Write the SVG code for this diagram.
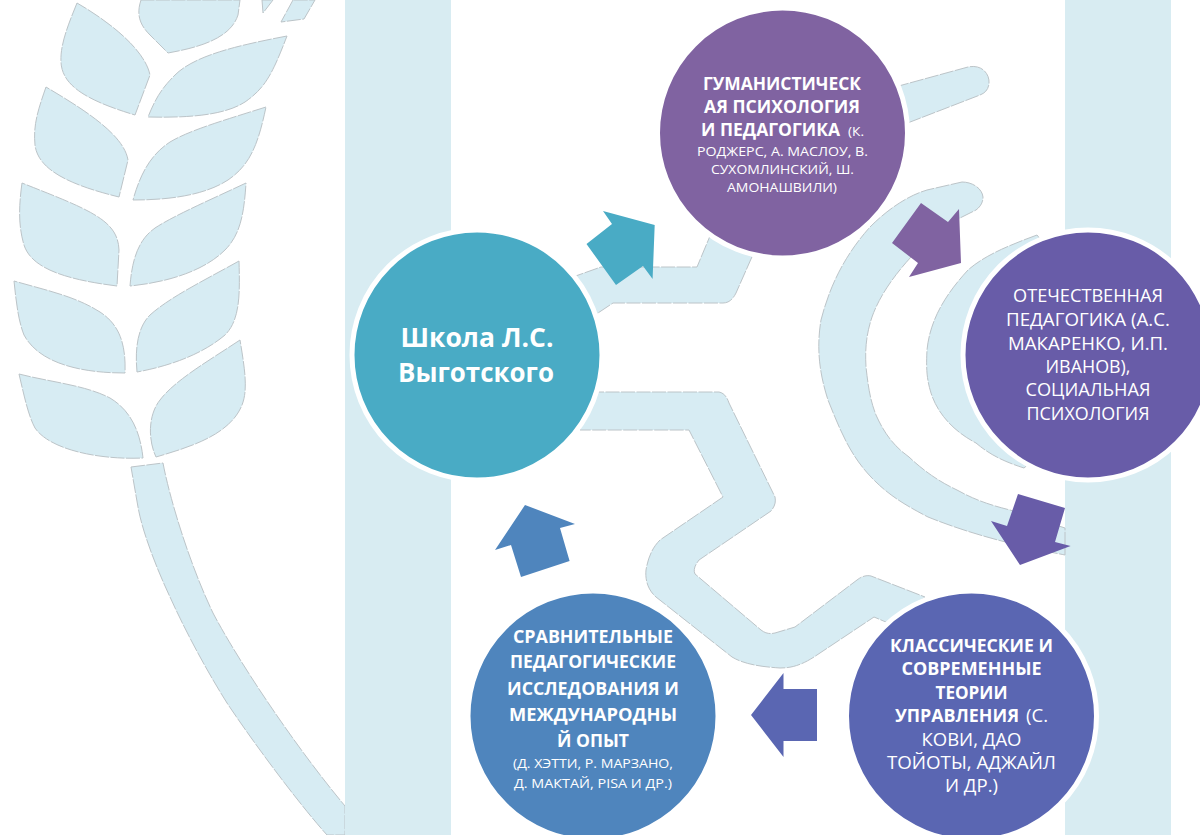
<svg xmlns="http://www.w3.org/2000/svg" width="1200" height="835" viewBox="0 0 1200 835">
<style>
.bg{fill:#d7ecf3;stroke:#bcc4c8;stroke-width:1;stroke-dasharray:14 1.5;stroke-linejoin:round}
.strip{fill:#d8ecf2}
.ring{stroke:#fff;stroke-width:5}
text{font-family:"Open Sans","Noto Sans","Liberation Sans",sans-serif;fill:#fff;text-anchor:middle}
.h{font-weight:700;font-size:18px}
.r{font-weight:400;font-size:17.5px}
.s{font-weight:400;font-size:13.5px}
.t{font-weight:700;font-size:26px}
</style>
<rect width="1200" height="835" fill="#fff"/>
<g id="background">
<path class="bg" d="M141,0C136,15 140,25 150,35L168,53C195,48 230,40 238,15L240,0Z"/>
<path class="bg" d="M77,3C68,25 60,45 61,62C62,85 85,100 135,115L150,75C145,50 110,22 77,3Z"/>
<path class="bg" d="M287,36C240,45 195,55 175,75C160,90 155,100 148,117C190,118 225,115 245,102C265,88 272,75 287,36Z"/>
<path class="bg" d="M46,87C38,110 33,125 35,145C38,170 70,185 119,197L128,160C124,135 85,110 46,87Z"/>
<path class="bg" d="M266,107C225,120 190,130 170,142C150,155 140,175 133,200C170,200 205,195 228,180C250,165 258,145 266,107Z"/>
<path class="bg" d="M22,183C19,205 18,225 24,245C32,270 70,280 117,286L119,250C118,220 90,210 22,183Z"/>
<path class="bg" d="M246,183C210,200 175,215 155,228C138,240 132,260 130,286C170,282 205,270 225,250C240,235 244,215 246,183Z"/>
<path class="bg" d="M14,281C16,300 18,320 24,335C40,365 85,373 125,373C126,345 120,325 100,312C75,296 45,290 14,281Z"/>
<path class="bg" d="M239,261C205,280 170,297 150,315C137,328 135,350 137,372C175,365 205,352 225,335C240,320 240,295 239,261Z"/>
<path class="bg" d="M19,374C24,395 28,415 35,428C50,450 100,460 143,458C140,430 130,410 110,398C85,385 50,382 19,374Z"/>
<path class="bg" d="M240,340C210,360 175,380 160,400C148,415 148,440 156,457C190,447 230,435 242,405C248,390 245,370 240,340Z"/>
<path class="bg" d="M262,0L263,13L273,0Z"/>
<path class="bg" d="M293,0L281,22L304,19L315,0Z"/>
<path class="bg" d="M131,467L163,463C170,500 190,565 213,613C235,655 290,740 345,806V835H327C300,805 255,745 227,703C205,668 185,630 170,597C155,565 142,530 138,507Z"/>
<rect class="strip" x="345" y="0" width="106" height="835"/>
<rect class="strip" x="1065" y="0" width="106" height="835"/>
<path class="bg" d="M895,87L968,67C982,64 990,74 989,84C988,90 985,93 980,95L905,124Z"/>
<path class="bg" d="M570,278L601,267H697L710,236L755,250L736,293C733,299 729,303 723,303H613L595,315Z"/>
<path class="bg" d="M590,392H719C724,393 727,397 729,403L775,497C776,502 775,506 771,511L699,560C695,565 693,570 695,574L761,630C766,634 771,634 775,633L795,627L857,580C862,576 867,575 871,576L925,597L893,625L874,617L814,657C800,666 790,668 780,668C765,667 745,665 732,657L656,597C648,590 645,580 646,570C648,558 652,548 660,540L723,497L689,430H580Z"/>
<path class="bg" d="M962,182C972,182 982,188 983,197C983,203 980,207 976,210L960,218C940,230 925,242 911,257C890,280 878,300 872,317C866,335 865,350 866,367C868,385 870,400 876,415C885,435 895,447 909,457C925,472 940,482 957,490C975,500 990,505 1010,510L1065,528V555C1040,550 985,540 928,517C905,505 888,495 871,477C850,455 840,430 828,400C820,375 816,350 821,320C830,285 845,255 870,227C890,207 910,195 927,190Z"/>
<path class="bg" d="M1037,235C1010,245 985,255 968,270C945,295 930,320 927,350C926,370 927,380 931,393C938,415 955,432 976,443C990,455 1005,462 1024,468L1080,420L1090,300Z"/>
</g>
<g id="connectors">
<polygon fill="#49abc5" points="654.7,225 603,211 612,224 586.5,244 616,285 643,266 652.6,279"/>
<polygon fill="#8063a1" points="921,203 948,222 959,209 961,263 909,277 918,263 892,243"/>
<polygon fill="#685ca8" points="1018,494 1065,508 1055,542 1070.6,546 1020,565 991,521 1007,526"/>
<polygon fill="#5a66b2" points="783.5,673 783.5,689 817,689 817,741 783.5,741 783.5,757 751,715"/>
<polygon fill="#4f85bd" points="525,505 575,524 560,528 569.6,561 521,577 511,545 495,550"/>
</g>
<g id="node-school">
<circle class="ring" cx="477" cy="355" r="125" fill="#49abc5"/>
<text class="t" x="477" y="347" textLength="153" lengthAdjust="spacingAndGlyphs">Школа Л.С.</text>
<text class="t" x="476" y="382" textLength="156" lengthAdjust="spacingAndGlyphs">Выготского</text>
</g>
<g id="node-humanistic">
<circle class="ring" cx="782.5" cy="133" r="125" fill="#8063a1"/>
<text class="h" x="782" y="90" textLength="158" lengthAdjust="spacingAndGlyphs">ГУМАНИСТИЧЕСК</text>
<text class="h" x="782" y="113" textLength="156" lengthAdjust="spacingAndGlyphs">АЯ ПСИХОЛОГИЯ</text>
<text class="h" x="770.5" y="136" textLength="139" lengthAdjust="spacingAndGlyphs">И ПЕДАГОГИКА</text>
<text class="s" x="856" y="136" textLength="16" lengthAdjust="spacingAndGlyphs">(К.</text>
<text class="s" x="782.5" y="156" textLength="171" lengthAdjust="spacingAndGlyphs">РОДЖЕРС, А. МАСЛОУ, В.</text>
<text class="s" x="782.5" y="174" textLength="143" lengthAdjust="spacingAndGlyphs">СУХОМЛИНСКИЙ, Ш.</text>
<text class="s" x="782" y="192" textLength="110" lengthAdjust="spacingAndGlyphs">АМОНАШВИЛИ)</text>
</g>
<g id="node-domestic">
<circle class="ring" cx="1088" cy="355" r="125" fill="#685ca8"/>
<text class="r" x="1088" y="302" textLength="150" lengthAdjust="spacingAndGlyphs">ОТЕЧЕСТВЕННАЯ</text>
<text class="r" x="1088" y="326" textLength="164" lengthAdjust="spacingAndGlyphs">ПЕДАГОГИКА (А.С.</text>
<text class="r" x="1088" y="350" textLength="160" lengthAdjust="spacingAndGlyphs">МАКАРЕНКО, И.П.</text>
<text class="r" x="1088" y="373" textLength="85" lengthAdjust="spacingAndGlyphs">ИВАНОВ),</text>
<text class="r" x="1088" y="396" textLength="125" lengthAdjust="spacingAndGlyphs">СОЦИАЛЬНАЯ</text>
<text class="r" x="1088" y="420" textLength="123" lengthAdjust="spacingAndGlyphs">ПСИХОЛОГИЯ</text>
</g>
<g id="node-management">
<circle class="ring" cx="971.5" cy="716" r="125" fill="#5a66b2"/>
<text class="h" x="971.5" y="652" textLength="163" lengthAdjust="spacingAndGlyphs">КЛАССИЧЕСКИЕ И</text>
<text class="h" x="971.5" y="675" textLength="140" lengthAdjust="spacingAndGlyphs">СОВРЕМЕННЫЕ</text>
<text class="h" x="971.5" y="699" textLength="72" lengthAdjust="spacingAndGlyphs">ТЕОРИИ</text>
<text class="h" x="957" y="722" textLength="124" lengthAdjust="spacingAndGlyphs">УПРАВЛЕНИЯ</text>
<text class="r" x="1037" y="722" textLength="22" lengthAdjust="spacingAndGlyphs">(С.</text>
<text class="r" x="971.5" y="746" textLength="100" lengthAdjust="spacingAndGlyphs">КОВИ, ДАО</text>
<text class="r" x="971.5" y="769" textLength="169" lengthAdjust="spacingAndGlyphs">ТОЙОТЫ, АДЖАЙЛ</text>
<text class="r" x="971.5" y="792" textLength="53" lengthAdjust="spacingAndGlyphs">И ДР.)</text>
</g>
<g id="node-comparative">
<circle class="ring" cx="593" cy="716" r="125" fill="#4f85bd"/>
<text class="h" x="593" y="643" textLength="160" lengthAdjust="spacingAndGlyphs">СРАВНИТЕЛЬНЫЕ</text>
<text class="h" x="593" y="668" textLength="166" lengthAdjust="spacingAndGlyphs">ПЕДАГОГИЧЕСКИЕ</text>
<text class="h" x="593" y="695" textLength="172" lengthAdjust="spacingAndGlyphs">ИССЛЕДОВАНИЯ И</text>
<text class="h" x="593" y="721" textLength="168" lengthAdjust="spacingAndGlyphs">МЕЖДУНАРОДНЫ</text>
<text class="h" x="593" y="747" textLength="72" lengthAdjust="spacingAndGlyphs">Й ОПЫТ</text>
<text class="s" x="593" y="768" textLength="160" lengthAdjust="spacingAndGlyphs">(Д. ХЭТТИ, Р. МАРЗАНО,</text>
<text class="s" x="593" y="788" textLength="158" lengthAdjust="spacingAndGlyphs">Д. МАКТАЙ, PISA И ДР.)</text>
</g>
</svg>
